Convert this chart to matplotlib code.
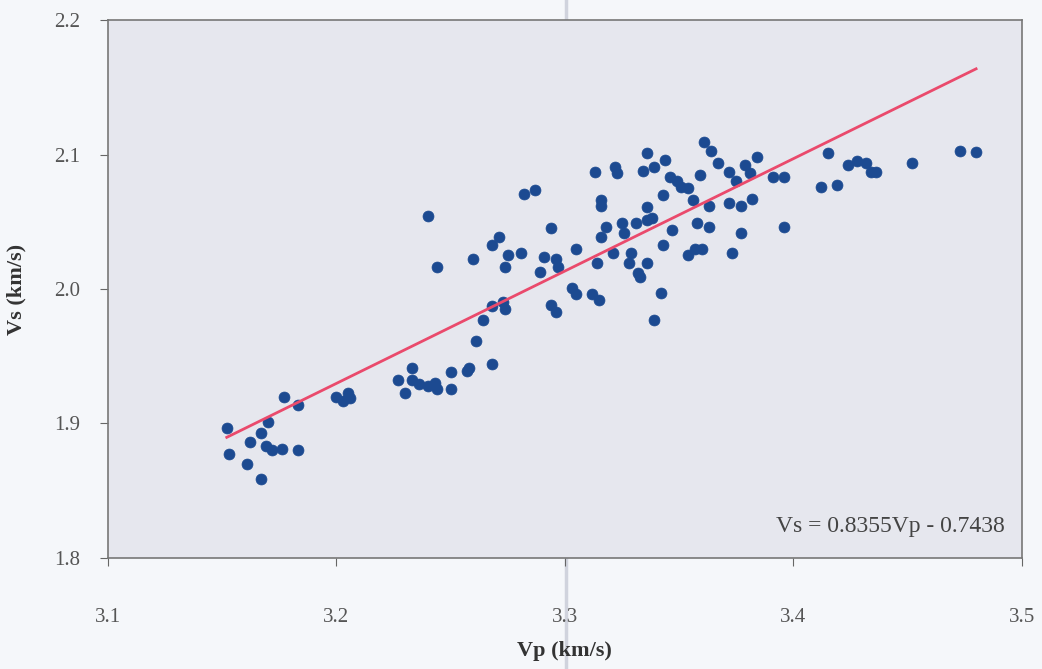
import numpy as np
import matplotlib
matplotlib.use("Agg")
import matplotlib.pyplot as plt
from matplotlib.lines import Line2D

# Measured P- and S-wave velocities (km/s)
vp = [3.152, 3.153, 3.161, 3.162, 3.167, 3.167, 3.170, 3.169, 3.172, 3.176,
      3.183, 3.177, 3.183, 3.200, 3.205, 3.203, 3.206,
      3.227, 3.230, 3.233, 3.233, 3.236, 3.240, 3.243, 3.244, 3.250, 3.250,
      3.257, 3.258, 3.268, 3.261, 3.264, 3.268, 3.273, 3.274,
      3.240, 3.244, 3.260, 3.268, 3.271, 3.275, 3.281, 3.274, 3.282, 3.287,
      3.294, 3.291, 3.296, 3.297, 3.289, 3.294, 3.296,
      3.305, 3.303, 3.305, 3.312, 3.315, 3.314, 3.313, 3.322, 3.323, 3.316,
      3.316, 3.318, 3.316, 3.325, 3.326, 3.321, 3.329, 3.328, 3.332, 3.336,
      3.333, 3.331, 3.336, 3.338, 3.336, 3.336, 3.334, 3.339, 3.344, 3.346,
      3.343, 3.347, 3.343, 3.342, 3.339,
      3.361, 3.364, 3.367, 3.349, 3.351, 3.354, 3.359, 3.356, 3.372, 3.375,
      3.379, 3.381, 3.384, 3.391, 3.396, 3.363, 3.372, 3.377, 3.382, 3.358,
      3.363, 3.377, 3.396, 3.354, 3.357, 3.360, 3.373,
      3.415, 3.424, 3.428, 3.432, 3.434, 3.436, 3.412, 3.419, 3.452, 3.473,
      3.480]
vs = [1.897, 1.877, 1.870, 1.886, 1.893, 1.859, 1.901, 1.883, 1.880, 1.881,
      1.880, 1.920, 1.914, 1.920, 1.923, 1.917, 1.919,
      1.932, 1.923, 1.941, 1.932, 1.929, 1.928, 1.930, 1.926, 1.938, 1.926,
      1.939, 1.941, 1.944, 1.961, 1.977, 1.987, 1.990, 1.985,
      2.054, 2.016, 2.022, 2.033, 2.039, 2.025, 2.027, 2.016, 2.071, 2.074,
      2.045, 2.024, 2.022, 2.016, 2.013, 1.988, 1.983,
      2.030, 2.001, 1.996, 1.996, 1.992, 2.019, 2.087, 2.091, 2.086, 2.066,
      2.062, 2.046, 2.039, 2.049, 2.042, 2.027, 2.027, 2.019, 2.012, 2.019,
      2.009, 2.049, 2.051, 2.053, 2.061, 2.101, 2.088, 2.091, 2.096, 2.083,
      2.070, 2.044, 2.033, 1.997, 1.977,
      2.109, 2.103, 2.094, 2.080, 2.076, 2.075, 2.085, 2.066, 2.087, 2.080,
      2.092, 2.086, 2.098, 2.083, 2.083, 2.062, 2.064, 2.062, 2.067, 2.049,
      2.046, 2.042, 2.046, 2.025, 2.030, 2.030, 2.027,
      2.101, 2.092, 2.095, 2.094, 2.087, 2.087, 2.076, 2.077, 2.094, 2.103,
      2.102]

# Linear fit Vs = a*Vp + b
slope, intercept = 0.8355, -0.7438
fit_range = [3.152, 3.480]

xticks = [3.1, 3.2, 3.3, 3.4, 3.5]
yticks = [1.8, 1.9, 2.0, 2.1, 2.2]

plt.rcParams['font.family'] = ['Liberation Serif', 'DejaVu Serif']

fig = plt.figure(figsize=(10.42, 6.69), dpi=100, facecolor='#f5f7fa')
ax = fig.add_axes([0.1036, 0.166, 0.877, 0.804])
ax.set_facecolor('#e6e7ee')

# Data points
ax.scatter(vp, vs, s=62, color='#1c4a91', edgecolors='#1c4a91', linewidths=0.5, zorder=3)

# Regression line
fx = np.array(fit_range)
ax.plot(fx, slope * fx + intercept, color='#ea4a6c', lw=2, zorder=4)

ax.set_xlim(3.1, 3.5)
ax.set_ylim(1.8, 2.2)
ax.set_xticks(xticks)
ax.set_yticks(yticks)
ax.set_xticklabels([f'{t:.1f}' for t in xticks])
ax.set_yticklabels([f'{t:.1f}' for t in yticks])
ax.tick_params(axis='x', direction='out', length=6, pad=30, labelsize=15,
               labelcolor='#555555', color='#666666')
ax.tick_params(axis='y', direction='out', length=6, pad=14, labelsize=15,
               labelcolor='#555555', color='#666666')
for sp in ax.spines.values():
    sp.set_color('#777777')
    sp.set_linewidth(1.2)

ax.set_xlabel('Vp (km/s)', fontsize=16, fontweight='bold', color='#333333', labelpad=10)
ax.set_ylabel('Vs (km/s)', fontsize=16, fontweight='bold', color='#333333', labelpad=20)

ax.text(0.981, 0.058, f'Vs = {slope:.4f}Vp - {abs(intercept):.4f}',
        transform=ax.transAxes, ha='right', va='center', fontsize=17,
        color='#444444')

# faint vertical fold line across the page
fig.add_artist(Line2D([0.543, 0.543], [0, 1], transform=fig.transFigure,
                      color='#b8bccb', lw=2.5, alpha=0.6, zorder=0))

fig.savefig('out.png', dpi=100, facecolor=fig.get_facecolor())
